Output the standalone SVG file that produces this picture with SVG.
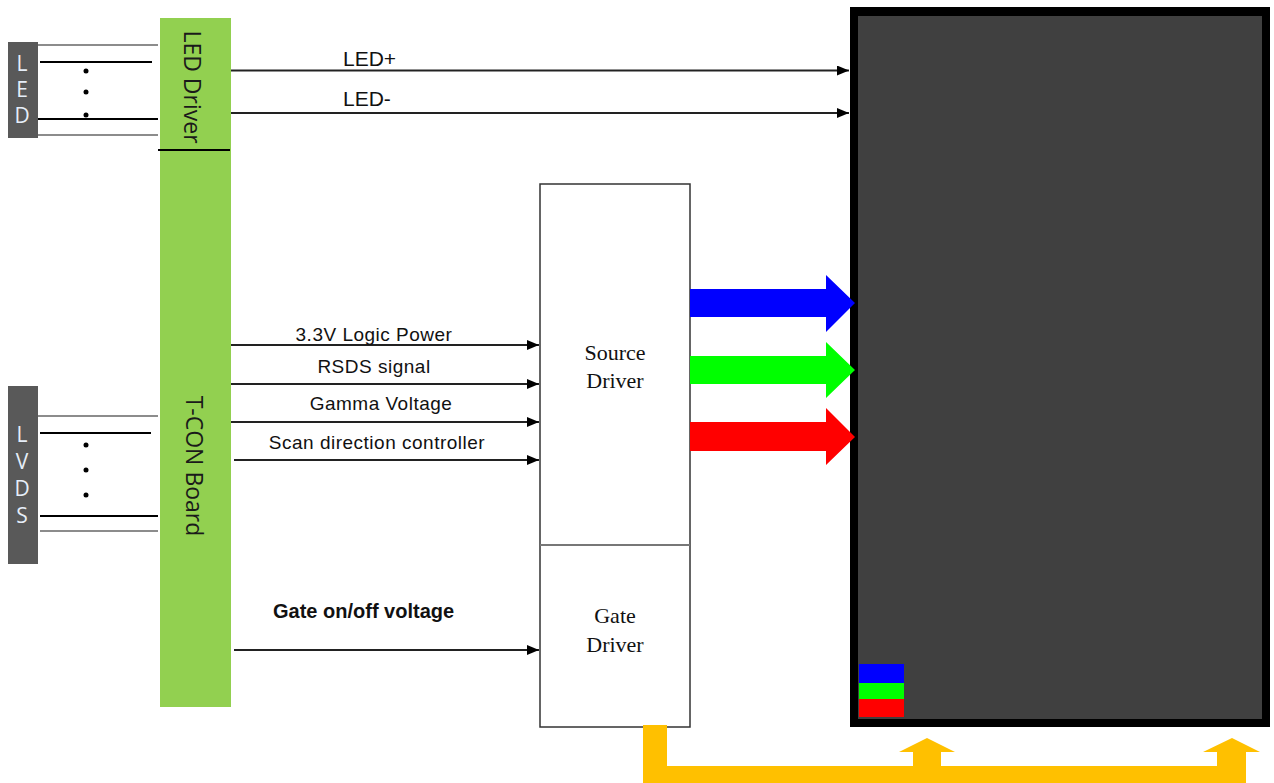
<svg xmlns="http://www.w3.org/2000/svg" width="1274" height="783" viewBox="0 0 1274 783">
<style>
.lbl{font-family:"Liberation Sans",Arial,sans-serif;fill:#111;}
.sig{font-size:19px;letter-spacing:0.5px;text-anchor:middle;}
.serif{font-family:"Liberation Serif","Times New Roman",serif;font-size:22px;fill:#111;text-anchor:middle;}
.conn{font-family:"Open Sans","Noto Sans",sans-serif;font-size:21px;fill:#E6EEF8;text-anchor:middle;}
.bar{font-family:"Open Sans","Noto Sans",sans-serif;font-size:23px;fill:#1a1a1a;text-anchor:middle;dominant-baseline:central;}
.wk{stroke:#000;stroke-width:2;}
.wg{stroke:#8c8c8c;stroke-width:2;}
.arr{stroke:#222;stroke-width:2;fill:none;marker-end:url(#ah);}
</style>
<defs>
<marker id="ah" viewBox="0 0 12 10" refX="12" refY="5" markerWidth="12" markerHeight="10" markerUnits="userSpaceOnUse" orient="auto">
<path d="M0,0 L12,5 L0,10 Z" fill="#000"/>
</marker>
</defs>
<rect width="1274" height="783" fill="#fff"/>

<g id="led-connector">
<rect x="8" y="42" width="30" height="96" fill="#595959"/>
<text class="conn" x="22" y="71">L</text>
<text class="conn" x="22" y="97">E</text>
<text class="conn" x="22" y="123">D</text>
<line class="wg" x1="38" y1="45" x2="158" y2="45"/>
<line class="wk" x1="40" y1="62" x2="152" y2="62"/>
<line class="wk" x1="38" y1="119" x2="158" y2="119"/>
<line class="wg" x1="38" y1="135" x2="158" y2="135"/>
<circle cx="86" cy="71" r="2.5" fill="#000"/>
<circle cx="86" cy="92" r="2.5" fill="#000"/>
<circle cx="86" cy="115" r="2.5" fill="#000"/>
</g>

<g id="lvds-connector">
<rect x="8" y="386" width="30" height="178" fill="#595959"/>
<text class="conn" x="22" y="442">L</text>
<text class="conn" x="22" y="469">V</text>
<text class="conn" x="22" y="496">D</text>
<text class="conn" x="22" y="523">S</text>
<line class="wg" x1="38" y1="416" x2="158" y2="416"/>
<line class="wk" x1="40" y1="433" x2="151" y2="433"/>
<line class="wk" x1="40" y1="516" x2="158" y2="516"/>
<line class="wg" x1="40" y1="531" x2="158" y2="531"/>
<circle cx="86" cy="445" r="2.5" fill="#000"/>
<circle cx="86" cy="470" r="2.5" fill="#000"/>
<circle cx="86" cy="495" r="2.5" fill="#000"/>
</g>

<g id="tcon-board">
<rect x="160" y="18" width="71" height="689" fill="#92D050"/>
<line x1="158" y1="150" x2="230" y2="150" stroke="#000" stroke-width="2"/>
<text class="bar" transform="translate(193,87) rotate(90)">LED Driver</text>
<text class="bar" transform="translate(195,466) rotate(90)">T-CON Board</text>
</g>

<g id="driver">
<rect x="540" y="184" width="150" height="543" fill="#fff" stroke="#333" stroke-width="1.5"/>
<line x1="540" y1="545" x2="690" y2="545" stroke="#777" stroke-width="2"/>
<text class="serif" x="615" y="360">Source</text>
<text class="serif" x="615" y="388">Driver</text>
<text class="serif" x="615" y="623">Gate</text>
<text class="serif" x="615" y="652">Driver</text>
</g>

<g id="panel">
<rect x="850" y="7" width="420" height="720" fill="#000"/>
<rect x="858" y="16" width="404" height="703" fill="#404040"/>
<rect x="859" y="664" width="45" height="19" fill="#0000FF"/>
<rect x="859" y="683" width="45" height="16" fill="#00FF00"/>
<rect x="859" y="699" width="45" height="18" fill="#FF0000"/>
</g>

<g id="connectors">
<line class="arr" x1="231" y1="70.5" x2="849" y2="70.5"/>
<line class="arr" x1="231" y1="113" x2="849" y2="113"/>
<line class="arr" x1="231" y1="345" x2="539" y2="345"/>
<line class="arr" x1="231" y1="384" x2="539" y2="384"/>
<line class="arr" x1="231" y1="422" x2="539" y2="422"/>
<line class="arr" x1="234" y1="460" x2="539" y2="460"/>
<line class="arr" x1="234" y1="650" x2="539" y2="650"/>
<polygon points="690,289 826,289 826,275 855,303 826,332 826,317 690,317" fill="#0000FF"/>
<polygon points="690,356 826,356 826,342 855,370 826,398 826,384 690,384" fill="#00FF00"/>
<polygon points="690,422 826,422 826,408 855,437 826,465 826,451 690,451" fill="#FF0000"/>
<path d="M643,725 H667 V766 H913 V752 H899 L927,738 L955,752 H941 V766 H1217 V752 H1203 L1232,738 L1260,752 H1246 V783 H643 Z" fill="#FFC000"/>
</g>

<g id="labels">
<text class="lbl" x="343" y="66" font-size="21">LED+</text>
<text class="lbl" x="343" y="106" font-size="21">LED-</text>
<text class="lbl sig" x="374" y="341">3.3V Logic Power</text>
<text class="lbl sig" x="374" y="373">RSDS signal</text>
<text class="lbl sig" x="381" y="410">Gamma Voltage</text>
<text class="lbl sig" x="377" y="449">Scan direction controller</text>
<text class="lbl" x="273" y="618" font-size="20" font-weight="bold">Gate on/off voltage</text>
</g>
</svg>
